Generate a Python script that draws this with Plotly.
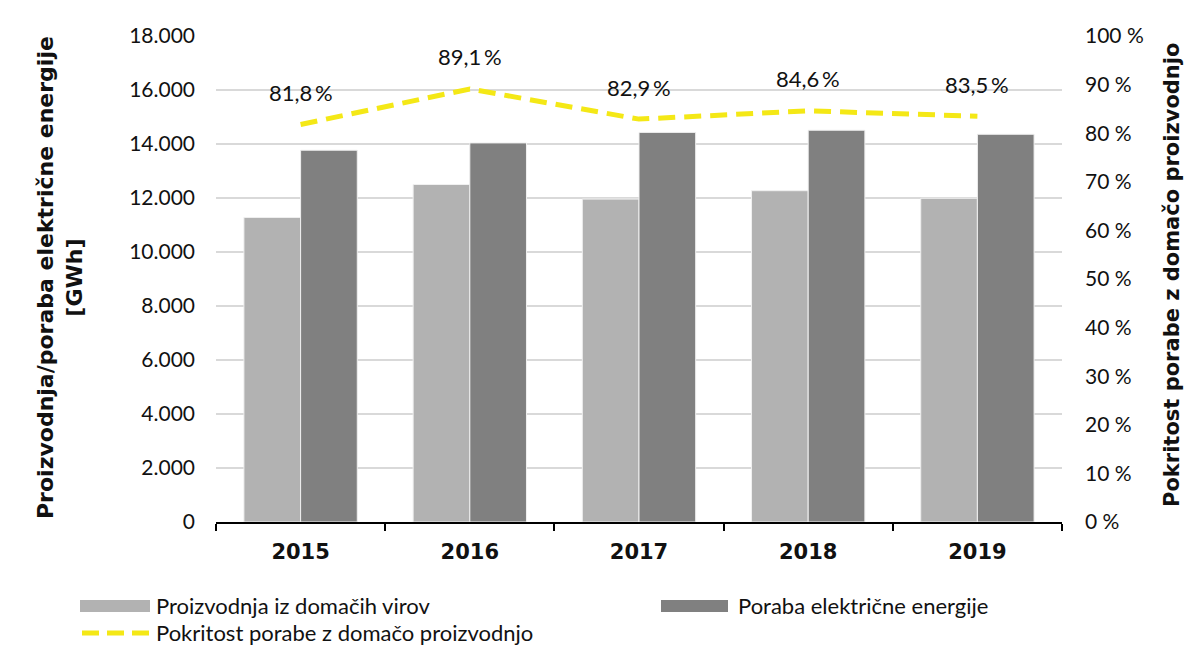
import plotly.graph_objects as go

years = ["2015", "2016", "2017", "2018", "2019"]
production = [11280, 12500, 11960, 12270, 11990]
consumption = [13770, 14040, 14430, 14510, 14360]
coverage = [0.818, 0.891, 0.829, 0.846, 0.835]
y_ticks = [0, 2000, 4000, 6000, 8000, 10000, 12000, 14000, 16000, 18000]
y_ticklabels = ["0", "2.000", "4.000", "6.000", "8.000", "10.000", "12.000", "14.000", "16.000", "18.000"]
y2_ticks = [0, 0.1, 0.2, 0.3, 0.4, 0.5, 0.6, 0.7, 0.8, 0.9, 1.0]
y2_ticklabels = ["0 %", "10 %", "20 %", "30 %", "40 %", "50 %", "60 %", "70 %", "80 %", "90 %", "100 %"]
names = ["Proizvodnja iz domačih virov", "Poraba električne energije", "Pokritost porabe z domačo proizvodnjo"]

# page has an 8px body margin: work in page pixels, then convert
OFF = 8
W, H = 1194 - 2 * OFF, 647 - OFF
L, R, T, B = 216, 1062, 36, 522  # page pixels of plot area
FONT = "Lato"
TFONT = "DejaVu Sans"
C_LIGHT = "#b2b2b2"
C_DARK = "#808080"
C_YEL = "#f4e816"
TXT = "#111111"

def px(x):
    return (x - L) / (R - L)

def py(y):
    return (B - y) / (B - T)

fig = go.Figure()
fig.add_trace(go.Bar(x=years, y=production, name=names[0], marker=dict(color=C_LIGHT, line=dict(color="#f0f0f0", width=1))))
fig.add_trace(go.Bar(x=years, y=consumption, name=names[1], marker=dict(color=C_DARK, line=dict(color="#f0f0f0", width=1))))
fig.add_trace(go.Scatter(x=years, y=coverage, name=names[2], yaxis="y2", mode="lines",
                         line=dict(color=C_YEL, width=5, dash="17px,9px")))

for i, v in enumerate(coverage):
    fig.add_annotation(x=i, y=v, xref="x", yref="y2", text=f"{v*100:.1f}".replace(".", ",") + "\u2009%",
                       showarrow=False, yshift=32, font=dict(family=FONT, size=22, color=TXT))

# Axis titles
fig.add_annotation(xref="paper", yref="paper", x=px(60), y=py(278), textangle=-90,
                   xanchor="center", yanchor="middle",
                   text="Proizvodnja/poraba električne energije<br>[GWh]", showarrow=False,
                   font=dict(family=TFONT, size=22, color=TXT, weight="bold"))
fig.add_annotation(xref="paper", yref="paper", x=px(1172), y=py(275), textangle=-90,
                   xanchor="center", yanchor="middle",
                   text="Pokritost porabe z domačo proizvodnjo", showarrow=False,
                   font=dict(family=TFONT, size=21, color=TXT, weight="bold"))

# Custom legend
shapes = []
shapes.append(dict(type="rect", xref="paper", yref="paper", x0=px(80), x1=px(150), y0=py(612), y1=py(600),
                   fillcolor=C_LIGHT, line=dict(width=0)))
shapes.append(dict(type="rect", xref="paper", yref="paper", x0=px(661), x1=px(728), y0=py(612), y1=py(600),
                   fillcolor=C_DARK, line=dict(width=0)))
shapes.append(dict(type="line", xref="paper", yref="paper", x0=px(82), x1=px(150), y0=py(633), y1=py(633),
                   line=dict(color=C_YEL, width=5, dash="17px,8px")))
legend_pos = [(155, 606), (737, 606), (155, 632)]
for n, (lx, ly) in zip(names, legend_pos):
    fig.add_annotation(xref="paper", yref="paper", x=px(lx), y=py(ly), xanchor="left", yanchor="middle",
                       text=n, showarrow=False, borderpad=0, font=dict(family=FONT, size=22, color=TXT))

fig.update_layout(
    width=W, height=H,
    margin=dict(l=L - OFF, r=(1194 - OFF) - R, t=T - OFF, b=(647) - B),
    paper_bgcolor="white", plot_bgcolor="white",
    barmode="group", bargap=0.33, bargroupgap=0,
    showlegend=False,
    shapes=shapes,
    font=dict(family=FONT, size=21, color=TXT),
    xaxis=dict(type="category", range=[-0.5, 4.5], showline=True, linecolor="black", linewidth=1.5,
               ticks="outside", tickson="boundaries", ticklen=7, tickcolor="black", tickwidth=1.5,
               tickfont=dict(family=TFONT, size=21, color=TXT, weight="bold"), ticklabelstandoff=10),
    yaxis=dict(range=[0, 18000], tickvals=y_ticks, ticktext=y_ticklabels, showgrid=True,
               gridcolor="#d9d9d9", gridwidth=1.5, zeroline=False, showline=False,
               tickfont=dict(family=FONT, size=21, color=TXT), ticklabelstandoff=20),
    yaxis2=dict(range=[0, 1], overlaying="y", side="right", tickvals=y2_ticks, ticktext=y2_ticklabels,
                showgrid=False, zeroline=False, showline=False,
                tickfont=dict(family=FONT, size=21, color=TXT), ticklabelstandoff=22),
)

fig.write_html("out.html")
